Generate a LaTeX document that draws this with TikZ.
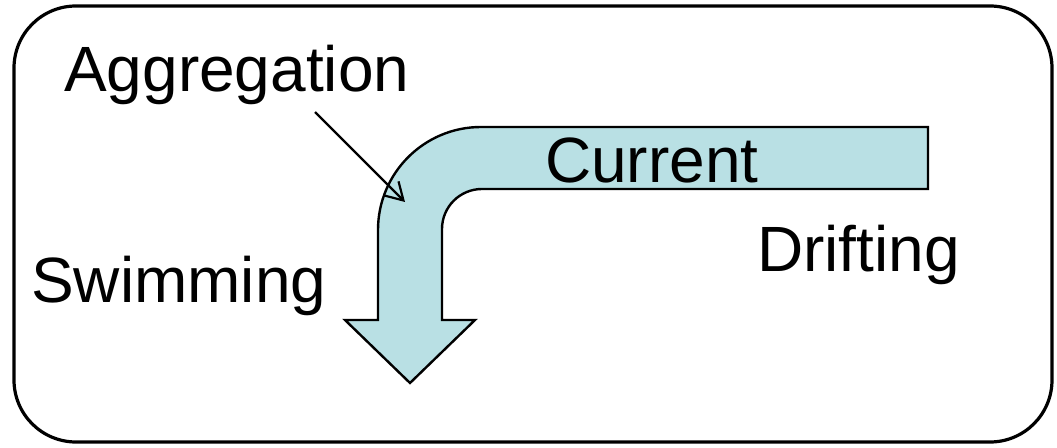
\documentclass[tikz,border=0pt]{standalone}
\usepackage{fontspec}
\setmainfont{Liberation Sans}
\usetikzlibrary{arrows.meta}
\definecolor{flowfill}{RGB}{185,224,228}
\tikzset{
  label/.style={anchor=base west, inner sep=0pt, font=\fontsize{64}{72}\selectfont},
  frame/.style={draw=black, line width=3.2pt, rounded corners=62pt},
  flow/.style={draw=black, line width=2.4pt, fill=flowfill, line join=miter},
  pointer/.style={draw=black, line width=2.2pt, -{Straight Barb[length=17pt,width=20pt,line width=2.2pt]}}
}
\begin{document}
\begin{tikzpicture}[x=1pt,y=1pt]
  \useasboundingbox (0,0) rectangle (1057,447);
  % outer rounded frame
  \draw[frame] (14,5) rectangle (1052,441);
  % bent current arrow
  \path[flow] (928,320) -- (481,320) arc[start angle=90,end angle=180,radius=103]
    -- (378,127) -- (345,127) -- (410,64) -- (475,127) -- (442,127)
    -- (442,218) arc[start angle=180,end angle=90,radius=40]
    -- (928,258) -- cycle;
  % labels
  \node[label] (agg) at (64,355) {Aggregation};
  \node[label] (cur) at (545,264) {Current};
  \node[label] (drift) at (757,175) {Drifting};
  \node[label] (swim) at (31,144) {Swimming};
  % pointer from the aggregation label into the bend
  \coordinate (aggstart) at (315,335);
  \coordinate (aggtip) at (405,245);
  \draw[pointer] (aggstart) -- (aggtip);
\end{tikzpicture}
\end{document}
